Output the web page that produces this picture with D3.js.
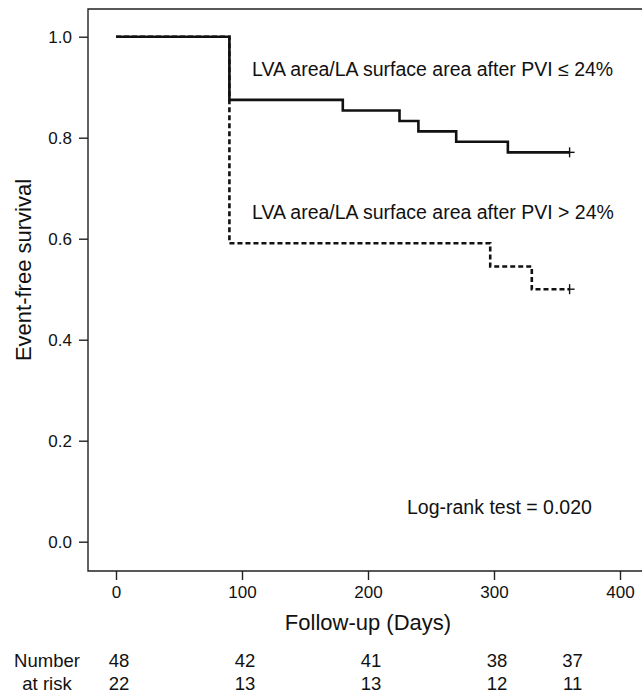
<!DOCTYPE html>
<html>
<head>
<meta charset="utf-8">
<script src="https://cdn.jsdelivr.net/npm/d3@7"></script>
<style>
  body { margin: 0; background: #fff; }
  text { font-family: "Liberation Sans", Arial, sans-serif; fill: #111; }
</style>
</head>
<body>
<div id="chart"></div>
<script>
// Kaplan-Meier steps (days, survival)
const lowTimes = [0, 90, 180, 225, 240, 270, 311, 360]
const lowSurv = [1.0, 0.875, 0.854, 0.833, 0.8125, 0.792, 0.771, 0.771]
const highTimes = [0, 90, 297, 330, 360]
const highSurv = [1.0, 0.591, 0.545, 0.5, 0.5]

const xTicks = [0, 100, 200, 300, 400]
const yTicks = [0.0, 0.2, 0.4, 0.6, 0.8, 1.0]

// number at risk table
const riskDays = [0, 100, 200, 300, 360]
const riskLow = [48, 42, 41, 38, 37]
const riskHigh = [22, 13, 13, 12, 11]

const lowLabel = 'LVA area/LA surface area after PVI ≤ 24%'
const highLabel = 'LVA area/LA surface area after PVI > 24%'
const testLabel = 'Log-rank test = 0.020'

const width = 642,
      height = 695,
      marginLeft = 88,
      marginTop = 9,
      axisBottom = 571

let svg = d3.select('#chart')
  .append('svg')
  .attr('width', width)
  .attr('height', height)

let x = d3.scaleLinear()
  .domain([0, 400])
  .range([116, 620])

let y = d3.scaleLinear()
  .domain([0, 1])
  .range([541.7, 36.7])

// frame: top, left, bottom
svg.append('path')
  .attr('d', `M${width},${marginTop}H${marginLeft}V${axisBottom}H${width}`)
  .attr('fill', 'none')
  .attr('stroke', '#222')
  .attr('stroke-width', 1.4)

let yAxis = svg.append('g')
  .attr('transform', `translate(${marginLeft},0)`)
  .call(d3.axisLeft(y)
    .tickValues(yTicks)
    .tickFormat(d3.format('.1f'))
    .tickSize(9)
    .tickPadding(7))
yAxis.select('.domain').remove()
yAxis.selectAll('line').attr('stroke', '#222').attr('stroke-width', 1.4)
yAxis.selectAll('text').attr('font-size', 17).attr('fill', '#111')
  .attr('font-family', '"Liberation Sans", Arial, sans-serif')

let xAxis = svg.append('g')
  .attr('transform', `translate(0,${axisBottom})`)
  .call(d3.axisBottom(x)
    .tickValues(xTicks)
    .tickSize(9)
    .tickPadding(6))
xAxis.select('.domain').remove()
xAxis.selectAll('line').attr('stroke', '#222').attr('stroke-width', 1.4)
xAxis.selectAll('text').attr('font-size', 17).attr('fill', '#111')
  .attr('font-family', '"Liberation Sans", Arial, sans-serif')

// axis titles
svg.append('text')
  .attr('transform', 'translate(31,270) rotate(-90)')
  .attr('text-anchor', 'middle')
  .attr('font-size', 22)
  .text('Event-free survival')

svg.append('text')
  .attr('x', x(200))
  .attr('y', 630)
  .attr('text-anchor', 'middle')
  .attr('font-size', 22)
  .text('Follow-up (Days)')

// survival curves
let step = d3.line()
  .x(d => x(d[0]))
  .y(d => y(d[1]))
  .curve(d3.curveStepAfter)

let curves = [
  { times: highTimes, surv: highSurv, dash: '5,3' },
  { times: lowTimes, surv: lowSurv, dash: null }
]

curves.forEach(c => {
  let pts = c.times.map((t, i) => [t, c.surv[i]])
  svg.append('path')
    .datum(pts)
    .attr('d', step)
    .attr('fill', 'none')
    .attr('stroke', '#111')
    .attr('stroke-width', 2.6)
    .attr('stroke-dasharray', c.dash)

  // censor mark at last point
  let last = pts[pts.length - 1]
  svg.append('line')
    .attr('x1', x(last[0])).attr('x2', x(last[0]))
    .attr('y1', y(last[1]) - 5).attr('y2', y(last[1]) + 5)
    .attr('stroke', '#111')
    .attr('stroke-width', 1.4)
  svg.append('line')
    .attr('x1', x(last[0]) - 2).attr('x2', x(last[0]) + 5)
    .attr('y1', y(last[1])).attr('y2', y(last[1]))
    .attr('stroke', '#111')
    .attr('stroke-width', 1.4)
})

// annotations
svg.append('text')
  .attr('x', 252).attr('y', 75.5)
  .attr('font-size', 19.5)
  .text(lowLabel)

svg.append('text')
  .attr('x', 252).attr('y', 219)
  .attr('font-size', 19.5)
  .text(highLabel)

svg.append('text')
  .attr('x', 407).attr('y', 514)
  .attr('font-size', 19.5)
  .text(testLabel)

// number at risk
svg.append('text')
  .attr('x', 47).attr('y', 666.5)
  .attr('text-anchor', 'middle')
  .attr('font-size', 18.5)
  .text('Number')
svg.append('text')
  .attr('x', 47).attr('y', 689.5)
  .attr('text-anchor', 'middle')
  .attr('font-size', 18.5)
  .text('at risk')

svg.selectAll('.riskLow')
  .data(riskLow)
  .enter()
  .append('text')
  .attr('class', 'riskLow')
  .attr('x', (d, i) => x(riskDays[i]) + 3)
  .attr('y', 666.5)
  .attr('text-anchor', 'middle')
  .attr('font-size', 18.5)
  .text(d => d)

svg.selectAll('.riskHigh')
  .data(riskHigh)
  .enter()
  .append('text')
  .attr('class', 'riskHigh')
  .attr('x', (d, i) => x(riskDays[i]) + 3)
  .attr('y', 689.5)
  .attr('text-anchor', 'middle')
  .attr('font-size', 18.5)
  .text(d => d)
</script>
</body>
</html>
